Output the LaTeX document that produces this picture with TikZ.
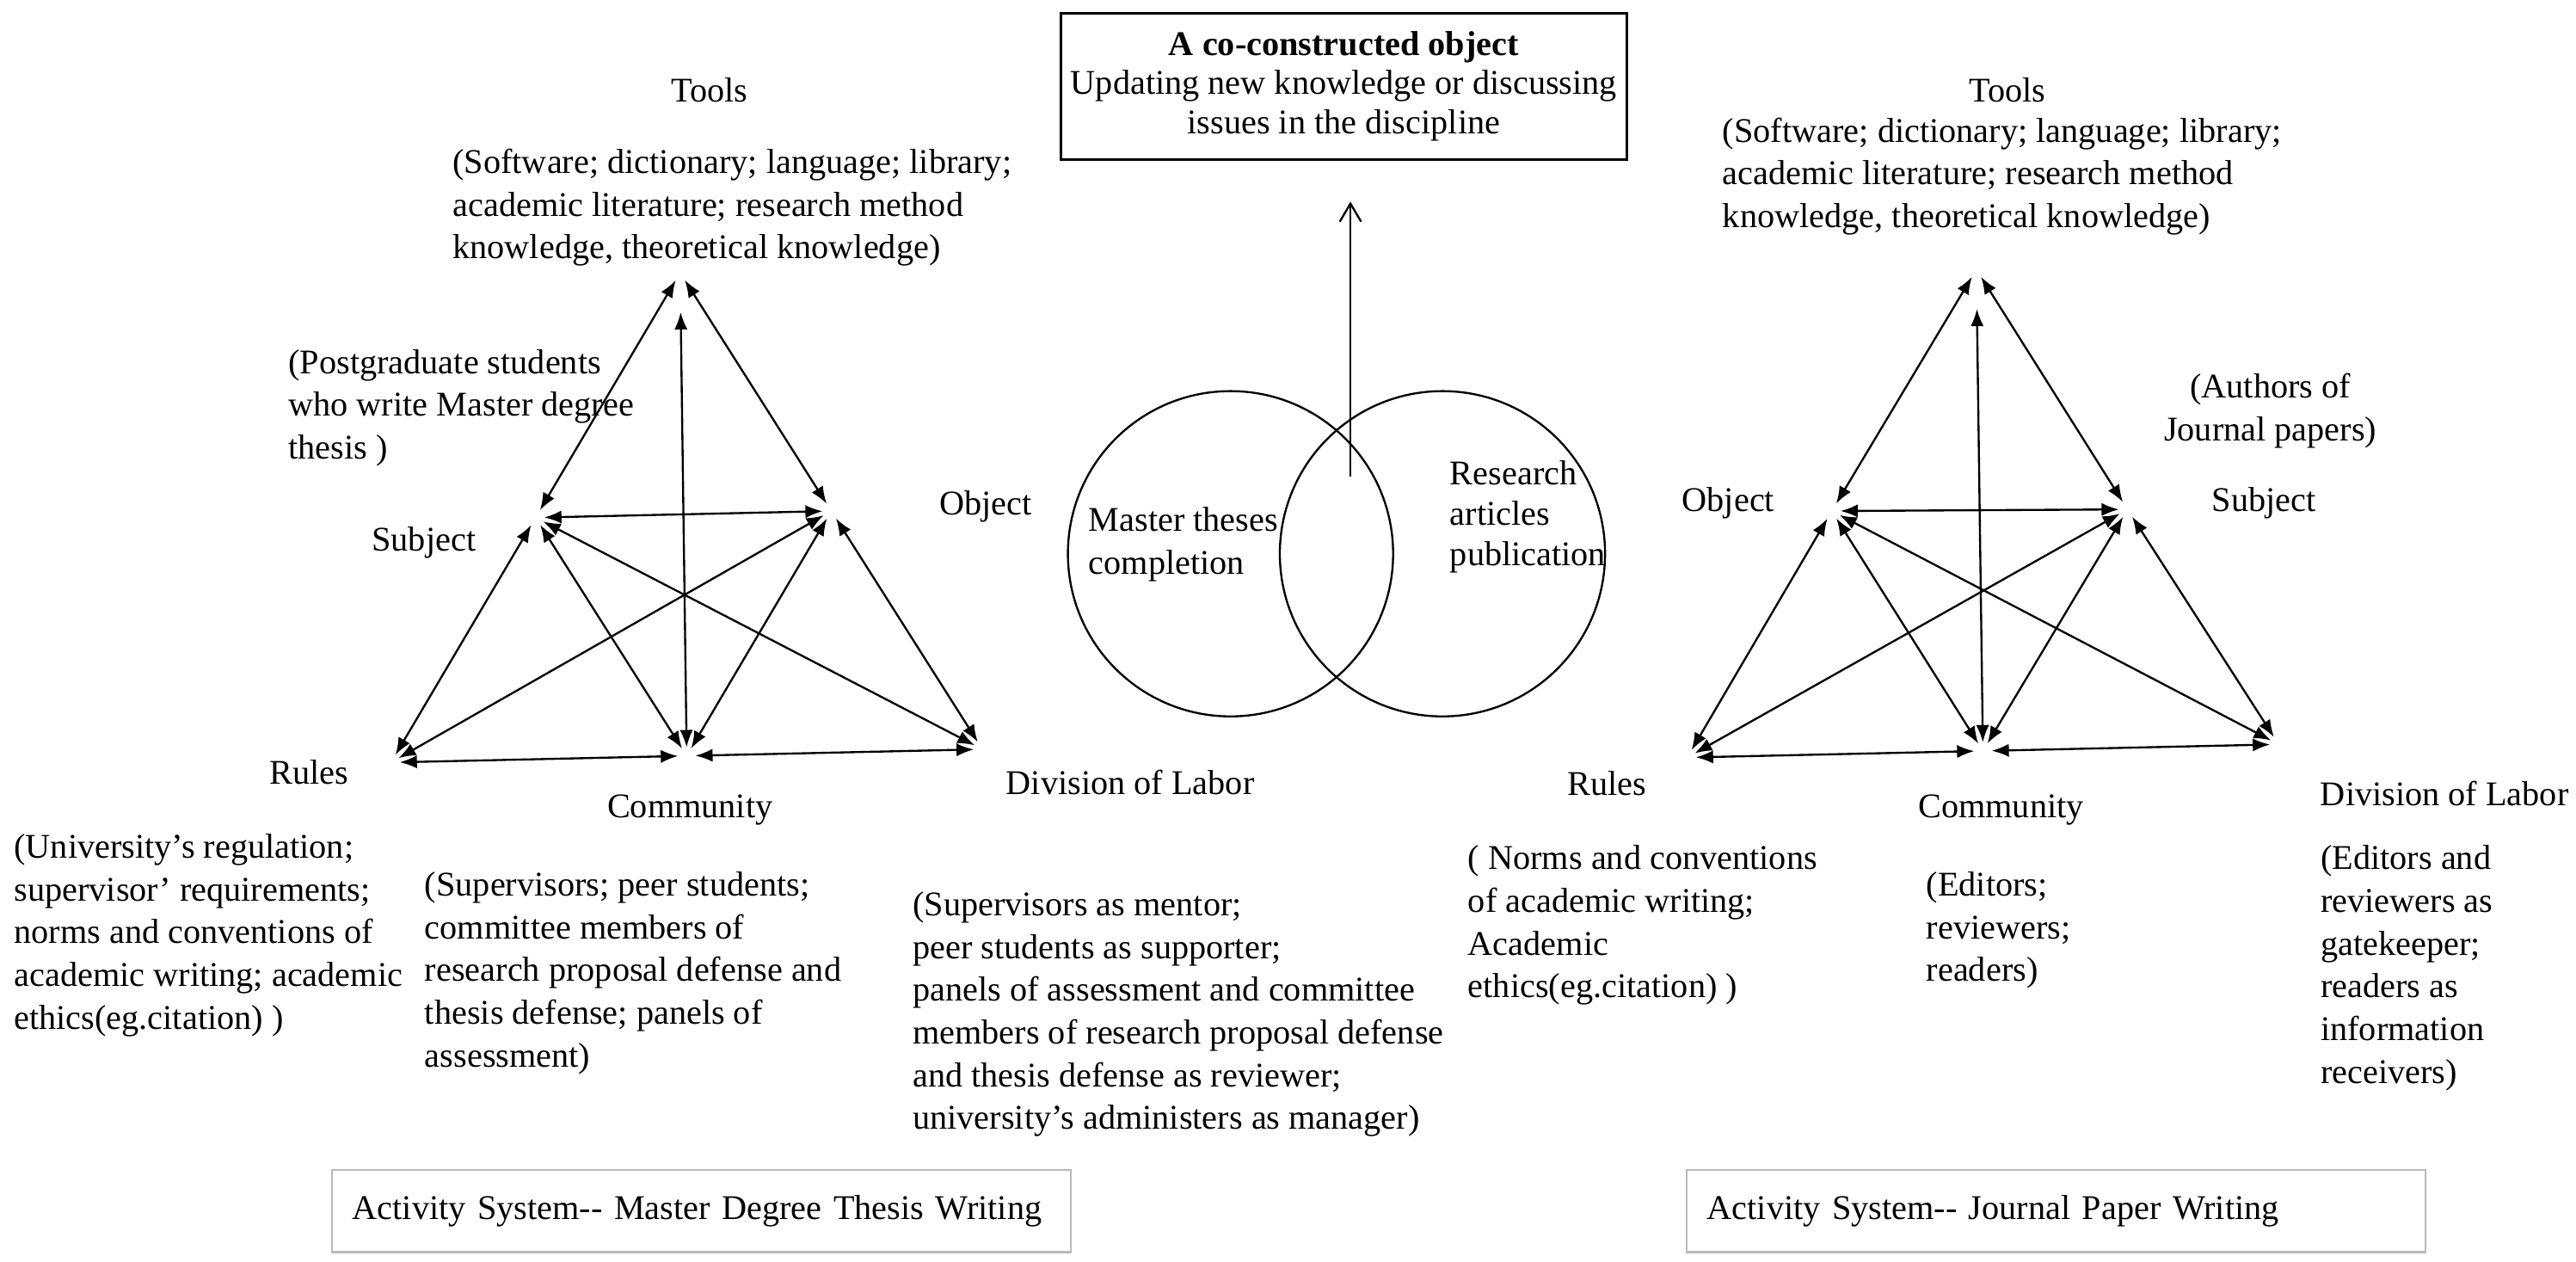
\documentclass[tikz,border=0pt]{standalone}
\usepackage{fontspec}
\setmainfont{Liberation Serif}
\usetikzlibrary{arrows.meta}

\begin{document}
\begin{tikzpicture}[x=0.02cm, y=-0.02cm, line width=0.7pt,
        font=\fontsize{12}{14.8}\selectfont,
        lbl/.style = {inner sep=0pt},
        note/.style = {inner sep=0pt, align=left, anchor=north west},
        dbl/.style = {{Latex[length=2.1mm,width=1.6mm]}-{Latex[length=2.1mm,width=1.6mm]}, shorten <=3pt, shorten >=3pt},
        ring/.style = {draw, circle, minimum size=3.96cm, inner sep=0pt},
        sysbox/.style = {draw=gray!55, line width=0.6pt, minimum width=9cm, minimum height=1cm, text width=8.5cm, align=left, inner xsep=0.25cm}]
    \useasboundingbox (0,0) rectangle (1568,768);

    % activity system 1
    \coordinate (tools1) at (414,166);
    \coordinate (subj1) at (326,315);
    \coordinate (obj1) at (506,311);
    \coordinate (rules1) at (238,464);
    \coordinate (comm1) at (418,460);
    \coordinate (div1) at (598,456);

    \node[lbl] (toolsA) at (432,55) {Tools};
    \node[note] (toolsAtxt) at (275,90) {(Software; dictionary; language; library;\\academic literature; research method\\knowledge, theoretical knowledge)};
    \node[note] (subjAtxt) at (175,212) {(Postgraduate students\\who write Master degree\\thesis )};
    \node[lbl] (subjA) at (258,330) {Subject};
    \node[lbl] (objA) at (600,308) {Object};
    \node[lbl] (rulesA) at (188,470) {Rules};
    \node[lbl] (commA) at (420,493) {Community};
    \node[lbl] (divA) at (688,476) {Division of Labor};
    \node[note] (rulesAtxt) at (8,507) {(University's regulation;\\supervisor' requirements;\\norms and conventions of\\academic writing; academic\\ethics(eg.citation) )};
    \node[note] (commAtxt) at (258,530) {(Supervisors; peer students;\\committee members of\\research proposal defense and\\thesis defense; panels of\\assessment)};
    \node[note] (divAtxt) at (555,542) {(Supervisors as mentor;\\peer students as supporter;\\panels of assessment and committee\\members of research proposal defense\\and thesis defense as reviewer;\\university's administers as manager)};

    \draw[dbl] (tools1) -- (subj1);
    \draw[dbl] (tools1) -- (obj1);
    \draw[dbl, shorten <=0.48cm] (tools1) -- (comm1);
    \draw[dbl] (subj1) -- (obj1);
    \draw[dbl] (subj1) -- (rules1);
    \draw[dbl] (subj1) -- (comm1);
    \draw[dbl] (subj1) -- (div1);
    \draw[dbl] (obj1) -- (rules1);
    \draw[dbl] (obj1) -- (comm1);
    \draw[dbl] (obj1) -- (div1);
    \draw[dbl] (rules1) -- (comm1);
    \draw[dbl] (comm1) -- (div1);

    % shared object
    \node[draw, line width=0.8pt, minimum width=6.8cm, minimum height=1.78cm, align=center, font=\fontsize{12}{13.6}\selectfont] (coobj) at (818,52.5) {\textbf{A co-constructed object}\\Updating new knowledge or discussing\\issues in the discipline};
    \node[ring] (mth) at (749,337) {};
    \node[ring] (rap) at (878,337) {};
    \node[note] (mthtxt) at (662,308) {Master theses\\completion};
    \node[note, font=\fontsize{12}{14}\selectfont] (raptxt) at (882,280) {Research\\articles\\publication};
    \coordinate (up) at (822,290);
    \draw[-{Straight Barb[length=2.2mm,width=2.6mm]}, shorten >=0.5cm] (up) -- (up |- coobj.south);

    % activity system 2
    \coordinate (tools2) at (1203,164);
    \coordinate (obj2) at (1115,311);
    \coordinate (subj2) at (1295,310);
    \coordinate (rules2) at (1027,461);
    \coordinate (comm2) at (1207,457);
    \coordinate (div2) at (1387,453);

    \node[lbl] (toolsB) at (1222,55) {Tools};
    \node[note] (toolsBtxt) at (1048,71) {(Software; dictionary; language; library;\\academic literature; research method\\knowledge, theoretical knowledge)};
    \node[lbl, align=center] (subjBtxt) at (1382,250) {(Authors of\\Journal papers)};
    \node[lbl] (objB) at (1052,306) {Object};
    \node[lbl] (subjB) at (1378,306) {Subject};
    \node[lbl] (rulesB) at (978,477) {Rules};
    \node[lbl] (commB) at (1218,493) {Community};
    \node[lbl] (divB) at (1488,483) {Division of Labor};
    \node[note] (rulesBtxt) at (893,514) {( Norms and conventions\\of academic writing;\\Academic\\ethics(eg.citation) )};
    \node[note] (commBtxt) at (1172,530) {(Editors;\\reviewers;\\readers)};
    \node[note] (divBtxt) at (1412,514) {(Editors and\\reviewers as\\gatekeeper;\\readers as\\information\\receivers)};

    \draw[dbl] (tools2) -- (obj2);
    \draw[dbl] (tools2) -- (subj2);
    \draw[dbl, shorten <=0.48cm] (tools2) -- (comm2);
    \draw[dbl] (obj2) -- (subj2);
    \draw[dbl] (obj2) -- (rules2);
    \draw[dbl] (obj2) -- (comm2);
    \draw[dbl] (obj2) -- (div2);
    \draw[dbl] (subj2) -- (rules2);
    \draw[dbl] (subj2) -- (comm2);
    \draw[dbl] (subj2) -- (div2);
    \draw[dbl] (rules2) -- (comm2);
    \draw[dbl] (comm2) -- (div2);

    % captions
    \node[sysbox] (sysA) at (427,737) {Activity System{-}{-} Master Degree Thesis Writing};
    \node[sysbox] (sysB) at (1251.5,737) {Activity System{-}{-} Journal Paper Writing};
\end{tikzpicture}
\end{document}
